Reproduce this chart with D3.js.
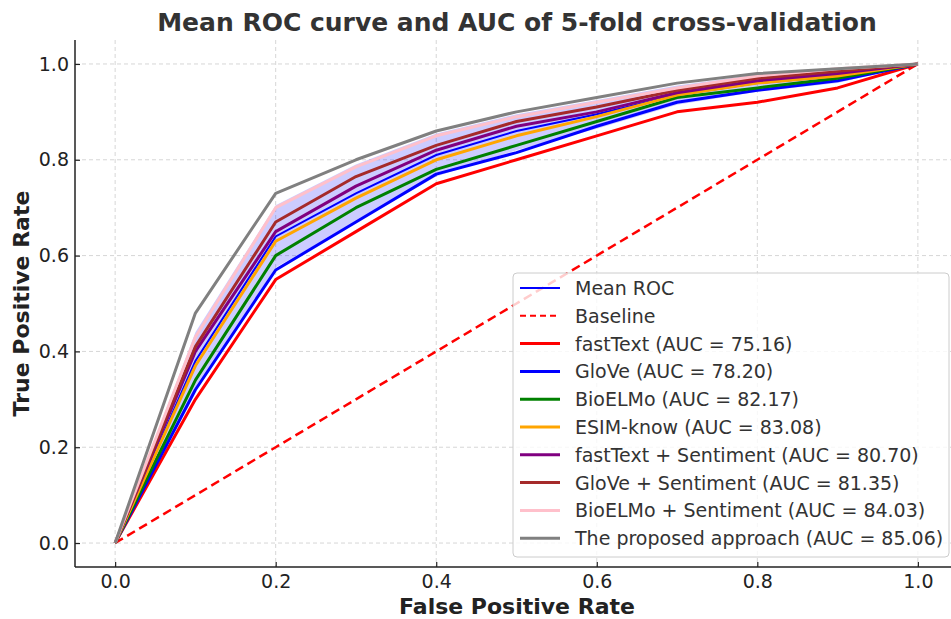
<!DOCTYPE html>
<html>
<head>
<meta charset="utf-8">
<script src="https://cdn.jsdelivr.net/npm/d3@7"></script>
<style>
  body { margin: 0; background: #fff; }
  svg { font-family: "DejaVu Sans", sans-serif; }
</style>
</head>
<body>
<svg id="chart" width="951" height="619"></svg>
<script>
// false positive rate grid
var fpr = [0, 0.1, 0.2, 0.3, 0.4, 0.5, 0.6, 0.7, 0.8, 0.9, 1.0];

// true positive rate
var tprFastText   = [0, 0.30, 0.55, 0.65, 0.75, 0.80, 0.85, 0.90, 0.92, 0.95, 1.0];
var tprGlove      = [0, 0.32, 0.57, 0.67, 0.77, 0.815, 0.87, 0.92, 0.945, 0.965, 1.0];
var tprBioElmo    = [0, 0.34, 0.60, 0.70, 0.78, 0.83, 0.88, 0.93, 0.95, 0.97, 1.0];
var tprEsim       = [0, 0.37, 0.63, 0.72, 0.80, 0.85, 0.89, 0.935, 0.96, 0.975, 1.0];
var tprFastSent   = [0, 0.40, 0.65, 0.745, 0.82, 0.87, 0.90, 0.94, 0.965, 0.98, 1.0];
var tprGloveSent  = [0, 0.41, 0.67, 0.765, 0.83, 0.88, 0.91, 0.945, 0.97, 0.985, 1.0];
var tprBioSent    = [0, 0.43, 0.70, 0.785, 0.85, 0.89, 0.92, 0.95, 0.975, 0.99, 1.0];
var tprProposed   = [0, 0.48, 0.73, 0.80, 0.86, 0.90, 0.93, 0.96, 0.98, 0.99, 1.0];

var tprMean  = [0, 0.38, 0.64, 0.73, 0.81, 0.86, 0.895, 0.935, 0.96, 0.975, 1.0];
var bandUp   = [0, 0.44, 0.705, 0.79, 0.855, 0.895, 0.925, 0.955, 0.978, 0.99, 1.0];
var bandLow  = [0, 0.32, 0.575, 0.67, 0.765, 0.82, 0.865, 0.915, 0.942, 0.96, 1.0];

var modelNames = ["fastText (AUC = 75.16)", "GloVe (AUC = 78.20)", "BioELMo (AUC = 82.17)",
  "ESIM-know (AUC = 83.08)", "fastText + Sentiment (AUC = 80.70)", "GloVe + Sentiment (AUC = 81.35)",
  "BioELMo + Sentiment (AUC = 84.03)", "The proposed approach (AUC = 85.06)"];
var modelColors = ["red", "blue", "green", "orange", "purple", "brown", "pink", "gray"];
var modelTpr = [tprFastText, tprGlove, tprBioElmo, tprEsim, tprFastSent, tprGloveSent, tprBioSent, tprProposed];

var ticks = [0, 0.2, 0.4, 0.6, 0.8, 1.0];

var svg = d3.select("#chart");
var x = d3.scaleLinear().domain([-0.05, 1.05]).range([75, 958]);
var y = d3.scaleLinear().domain([-0.05, 1.05]).range([567, 40]);

// grid
var grid = svg.append("g");
grid.selectAll(".gx").data(ticks).enter().append("line")
  .attr("x1", d => x(d)).attr("x2", d => x(d))
  .attr("y1", y(1.05)).attr("y2", y(-0.05))
  .attr("stroke", "#d6d6d6").attr("stroke-width", 1).attr("stroke-dasharray", "4,3");
grid.selectAll(".gy").data(ticks).enter().append("line")
  .attr("x1", x(-0.05)).attr("x2", x(1.05))
  .attr("y1", d => y(d)).attr("y2", d => y(d))
  .attr("stroke", "#d6d6d6").attr("stroke-width", 1).attr("stroke-dasharray", "4,3");

var line = d3.line().x((d, i) => x(fpr[i])).y(d => y(d));

// mean roc + band
svg.append("path").datum(tprMean).attr("d", line)
  .attr("fill", "none").attr("stroke", "blue").attr("stroke-width", 2);
var area = d3.area().x((d, i) => x(fpr[i])).y0((d, i) => y(bandLow[i])).y1(d => y(d));
svg.append("path").datum(bandUp).attr("d", area)
  .attr("fill", "blue").attr("fill-opacity", 0.2);

// baseline
svg.append("path").datum(fpr).attr("d", line)
  .attr("fill", "none").attr("stroke", "red").attr("stroke-width", 2.5)
  .attr("stroke-dasharray", "9,5");

// models
svg.selectAll(".model").data(modelTpr).enter().append("path")
  .attr("class", "model")
  .attr("d", line)
  .attr("fill", "none")
  .attr("stroke", (d, i) => modelColors[i])
  .attr("stroke-width", 3)
  .attr("stroke-linejoin", "round");

// axes (ticks point inward)
var xAxis = svg.append("g").attr("transform", "translate(0," + y(-0.05) + ")")
  .call(d3.axisBottom(x).tickValues(ticks).tickFormat(d3.format(".1f")).tickSize(-5).tickPadding(8));
var yAxis = svg.append("g").attr("transform", "translate(" + x(-0.05) + ",0)")
  .call(d3.axisLeft(y).tickValues(ticks).tickFormat(d3.format(".1f")).tickSize(-5).tickPadding(6));
[xAxis, yAxis].forEach(function(g) {
  g.select(".domain").attr("d", null);
  g.selectAll("text").attr("font-size", 19).attr("fill", "#222").attr("font-family", "DejaVu Sans");
  g.selectAll("line").attr("stroke", "#222").attr("stroke-width", 1.2);
});
svg.append("line").attr("x1", x(-0.05)).attr("x2", x(1.05)).attr("y1", y(-0.05)).attr("y2", y(-0.05))
  .attr("stroke", "#222").attr("stroke-width", 1.5);
svg.append("line").attr("x1", x(-0.05)).attr("x2", x(-0.05)).attr("y1", y(1.05)).attr("y2", y(-0.05))
  .attr("stroke", "#222").attr("stroke-width", 1.5);

// titles
svg.append("text").attr("x", 517).attr("y", 31).attr("text-anchor", "middle")
  .attr("font-size", 25).attr("font-weight", "bold").attr("fill", "#333")
  .text("Mean ROC curve and AUC of 5-fold cross-validation");
svg.append("text").attr("x", 517).attr("y", 614).attr("text-anchor", "middle")
  .attr("font-size", 22).attr("font-weight", "bold").attr("fill", "#222")
  .text("False Positive Rate");
svg.append("text").attr("transform", "translate(29," + y(0.5) + ") rotate(-90)")
  .attr("text-anchor", "middle")
  .attr("font-size", 22).attr("font-weight", "bold").attr("fill", "#222")
  .text("True Positive Rate");

// legend
var legendItems = [{name: "Mean ROC", color: "blue", dash: null, w: 2}, {name: "Baseline", color: "red", dash: "6,4", w: 2}]
  .concat(modelNames.map((n, i) => ({name: n, color: modelColors[i], dash: null, w: 3})));
var lg = svg.append("g").attr("transform", "translate(513,273)");
lg.append("rect").attr("width", 436).attr("height", 284).attr("rx", 4)
  .attr("fill", "white").attr("fill-opacity", 0.8).attr("stroke", "#cccccc");
var row = lg.selectAll(".row").data(legendItems).enter().append("g")
  .attr("transform", (d, i) => "translate(0," + (15 + i * 27.8) + ")");
row.append("line").attr("x1", 7).attr("x2", 47)
  .attr("stroke", d => d.color).attr("stroke-width", d => d.w)
  .attr("stroke-dasharray", d => d.dash);
row.append("text").attr("x", 62).attr("y", 7).attr("font-size", 19).attr("fill", "#333")
  .text(d => d.name);
</script>
</body>
</html>
